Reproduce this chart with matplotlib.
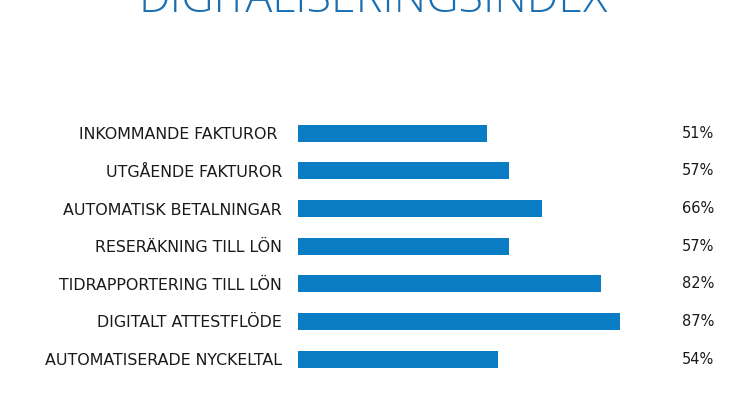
import matplotlib
matplotlib.use("Agg")
import matplotlib.pyplot as plt

categories = ["INKOMMANDE FAKTUROR ", "UTGÅENDE FAKTUROR", "AUTOMATISK BETALNINGAR",
              "RESERÄKNING TILL LÖN", "TIDRAPPORTERING TILL LÖN", "DIGITALT ATTESTFLÖDE",
              "AUTOMATISERADE NYCKELTAL"]
values = [51, 57, 66, 57, 82, 87, 54]
value_labels = ["51%", "57%", "66%", "57%", "82%", "87%", "54%"]
title = "DIGITALISERINGSINDEX"

bar_color = "#0a7cc4"
title_color = "#1a6fb3"

fig = plt.figure(figsize=(7.46, 4.19), dpi=100)
fig.patch.set_facecolor("white")

ax = fig.add_axes([0.3995, 0.098, 0.496, 0.629])
ypos = list(range(len(categories)))
ax.barh(ypos, values, height=0.45, color=bar_color)
ax.set_xlim(0, 100)
ax.set_ylim(len(categories) - 0.5, -0.5)
ax.set_yticks(ypos)
ax.set_yticklabels(categories, family="DejaVu Sans", fontsize=11.4, color="#1a1a1a")
ax.tick_params(axis="y", length=0, pad=11.5)
ax.set_xticks([])
for s in ax.spines.values():
    s.set_visible(False)

# percentage labels at the far right
for y, lab in zip(ypos, value_labels):
    ax.text(1.124, y, lab, transform=ax.get_yaxis_transform(), ha="right", va="center",
            family="DejaVu Sans", fontsize=10.5, color="#1a1a1a")

fig.text(0.5, 1 - 12 / 419, title, ha="center", va="baseline", fontsize=32.3,
         family="Open Sans", fontweight="light", color=title_color)

fig.savefig("out.png", dpi=100)
